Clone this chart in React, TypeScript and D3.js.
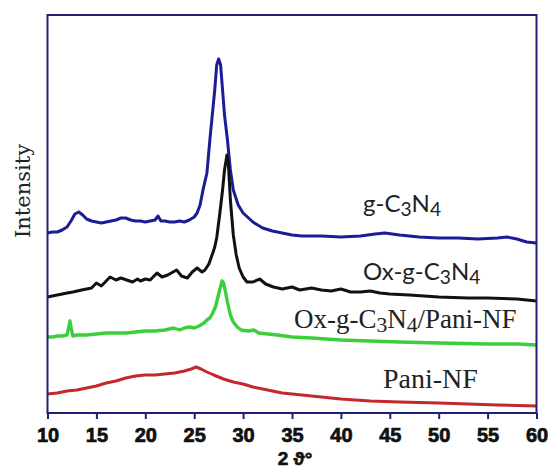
import React, { useEffect, useRef } from 'react';
import * as d3 from 'd3';

// 2θ positions and intensities (arbitrary units, stacked offsets kept as read)
const gC3N4: [number, number][] = [
  [10.0, 180], [10.5, 181], [11.0, 181], [11.5, 183], [12.0, 186], [12.4, 192], [12.8, 199], [13.2, 201],
  [13.6, 198], [14.0, 194], [14.5, 192], [15.0, 191], [15.5, 190], [16.0, 191], [16.5, 192], [17.0, 193],
  [17.5, 195], [18.0, 195], [18.5, 193], [19.0, 192], [19.5, 192], [20.0, 191], [20.5, 192], [21.0, 193],
  [21.3, 197], [21.6, 192], [22.0, 192], [22.5, 191], [23.0, 191], [23.5, 192], [24.0, 191], [24.5, 193],
  [25.0, 196], [25.3, 200], [25.6, 208], [25.9, 223], [26.3, 240], [26.6, 273], [26.9, 303], [27.1, 323],
  [27.3, 348], [27.5, 354], [27.7, 348], [27.9, 323], [28.1, 298], [28.4, 273], [28.7, 243], [29.0, 223],
  [29.5, 208], [30.0, 200], [31.0, 191], [32.0, 185], [33.0, 182], [34.0, 180], [35.0, 178], [36.0, 177],
  [38.0, 177], [40.0, 176], [42.0, 177], [43.5, 179], [44.5, 180], [46.0, 178], [48.0, 176], [50.0, 175],
  [52.0, 175], [54.0, 174], [56.0, 175], [57.0, 176], [58.0, 174], [59.0, 171], [60.0, 170],
];

const oxGC3N4: [number, number][] = [
  [10.0, 116], [11.0, 118], [12.0, 120], [12.6, 121], [13.5, 123], [14.5, 125], [15.0, 130], [15.5, 127],
  [16.0, 132], [16.4, 136], [17.0, 133], [17.5, 135], [18.1, 133], [18.7, 131], [19.2, 134], [19.5, 132],
  [20.0, 134], [20.5, 133], [21.2, 140], [21.7, 136], [22.3, 138], [23.2, 143], [23.7, 137], [24.3, 135],
  [24.8, 141], [25.3, 145], [25.8, 141], [26.1, 143], [26.5, 149], [26.9, 160], [27.1, 166], [27.3, 175],
  [27.6, 198], [27.9, 223], [28.1, 243], [28.35, 258], [28.5, 248], [28.7, 213], [29.0, 178], [29.3, 158],
  [29.6, 145], [30.0, 136], [30.4, 131], [31.0, 131], [31.7, 134], [32.3, 129], [33.1, 126], [34.0, 124],
  [35.0, 126], [35.8, 123], [37.0, 125], [38.0, 123], [39.0, 122], [40.0, 124], [41.0, 121], [42.0, 121],
  [43.0, 122], [44.0, 120], [45.0, 119], [47.0, 118], [50.0, 116], [53.0, 115], [55.0, 115], [58.0, 114],
  [60.0, 112],
];

const oxPani: [number, number][] = [
  [10.0, 76], [10.5, 76], [11.0, 77], [11.5, 77], [12.0, 78], [12.15, 85], [12.3, 92], [12.45, 83],
  [12.6, 77], [13.0, 78], [14.0, 78], [15.0, 79], [16.0, 80], [17.0, 80], [18.0, 80], [19.0, 81],
  [20.0, 82], [21.0, 82], [22.0, 83], [22.9, 85], [23.5, 83], [24.0, 85], [24.5, 86], [25.0, 85],
  [25.5, 87], [26.0, 90], [26.3, 93], [26.6, 95], [26.9, 100], [27.2, 107], [27.4, 115], [27.6, 123],
  [27.85, 132], [28.0, 130], [28.2, 121], [28.4, 111], [28.7, 98], [29.0, 91], [29.4, 86], [29.8, 83],
  [30.5, 82], [31.1, 83], [31.6, 80], [32.5, 79], [33.5, 78], [35.0, 76], [37.0, 75], [40.0, 73],
  [43.0, 72], [46.0, 71], [50.0, 70], [55.0, 69], [58.0, 69], [60.0, 68],
];

const paniNF: [number, number][] = [
  [10.0, 19], [11.0, 20], [12.0, 22], [13.0, 23], [14.0, 25], [15.0, 27], [16.0, 30], [17.0, 32],
  [18.0, 35], [19.0, 37], [20.0, 38], [21.0, 38], [22.0, 39], [23.0, 40], [24.0, 42], [24.7, 44],
  [25.2, 46], [25.7, 44], [26.3, 41], [27.0, 38], [28.0, 34], [29.0, 31], [30.0, 29], [31.0, 26],
  [32.0, 24], [33.0, 22], [34.0, 20], [35.0, 19], [37.0, 17], [40.0, 14], [43.0, 12], [46.0, 11],
  [50.0, 10], [53.0, 9], [56.0, 8], [60.0, 7],
];

const xTicks = [10, 15, 20, 25, 30, 35, 40, 45, 50, 55, 60];

const series = [
  { data: gC3N4, color: '#1c1c96', width: 3 },
  { data: oxGC3N4, color: '#111111', width: 3 },
  { data: oxPani, color: '#3ccf3c', width: 3.4 },
  { data: paniNF, color: '#c4282c', width: 3 },
];

const W = 553;
const H = 475;

const App = () => {
  const svgRef = useRef<SVGSVGElement>(null);

  useEffect(() => {
    const svg = d3.select(svgRef.current);
    svg.selectAll('*').remove();

    const left = 47.5, right = 536.5, top = 15, bottom = 413;
    const x = d3.scaleLinear().domain([10, 60]).range([left, right]);
    const y = d3.scaleLinear().domain([0, 398]).range([bottom, top]);

    const line = d3.line<[number, number]>()
      .x((d) => x(d[0]))
      .y((d) => y(d[1]));

    series.forEach((s) => {
      svg.append('path')
        .attr('d', line(s.data))
        .attr('fill', 'none')
        .attr('stroke', s.color)
        .attr('stroke-width', s.width)
        .attr('stroke-linejoin', 'round');
    });

    // frame
    svg.append('rect')
      .attr('x', left).attr('y', top)
      .attr('width', right - left).attr('height', bottom - top)
      .attr('fill', 'none')
      .attr('stroke', '#1f1f78')
      .attr('stroke-width', 2);

    const axis = svg.append('g')
      .attr('transform', `translate(0,${bottom})`)
      .call(d3.axisBottom(x).tickValues(xTicks).tickSize(6).tickPadding(9).tickFormat(d3.format('d')));
    axis.select('.domain').remove();
    axis.selectAll('line').attr('stroke', '#1f1f78').attr('stroke-width', 2);
    axis.selectAll('text')
      .attr('fill', '#111')
      .attr('stroke', '#111')
      .attr('stroke-width', 0.7)
      .style('font-family', '"Liberation Sans", Arial, sans-serif')
      .style('font-size', '20px')
      .style('font-weight', 'bold');

    svg.append('text')
      .attr('x', 295).attr('y', 465)
      .attr('text-anchor', 'middle')
      .attr('fill', '#111')
      .attr('stroke', '#111')
      .attr('stroke-width', 0.6)
      .style('font-family', '"Liberation Sans", "DejaVu Sans", sans-serif')
      .style('font-size', '19px')
      .style('font-weight', 'bold')
      .text('2 ϑ°');

    svg.append('text')
      .attr('transform', 'translate(30,191) rotate(-90)')
      .attr('text-anchor', 'middle')
      .attr('fill', '#222')
      .style('font', '21px "DejaVu Serif", serif')
      .text('Intensity');

    // curve labels with subscripts
    const label = (xPos: number, yPos: number, font: string, parts: [string, boolean][]) => {
      const t = svg.append('text')
        .attr('x', xPos).attr('y', yPos)
        .attr('fill', '#222')
        .style('font', font);
      parts.forEach(([txt, sub]) => {
        t.append('tspan')
          .attr('baseline-shift', sub ? '-20%' : null)
          .attr('font-size', sub ? '80%' : null)
          .text(txt);
      });
    };

    const sans = '24px Lato, sans-serif';
    const serif = '27px "Liberation Serif", serif';
    label(363, 212, sans, [['g-C', false], ['3', true], ['N', false], ['4', true]]);
    label(363, 280, sans, [['Ox-g-C', false], ['3', true], ['N', false], ['4', true]]);
    label(294, 328, serif, [['Ox-g-C', false], ['3', true], ['N', false], ['4', true], ['/Pani-NF', false]]);
    label(383, 388, '28px "Liberation Serif", serif', [['Pani-NF', false]]);
  }, []);

  return (
    <svg
      ref={svgRef}
      width={W}
      height={H}
      style={{ position: 'absolute', left: 0, top: 0, background: '#fff' }}
    />
  );
};

export default App;
